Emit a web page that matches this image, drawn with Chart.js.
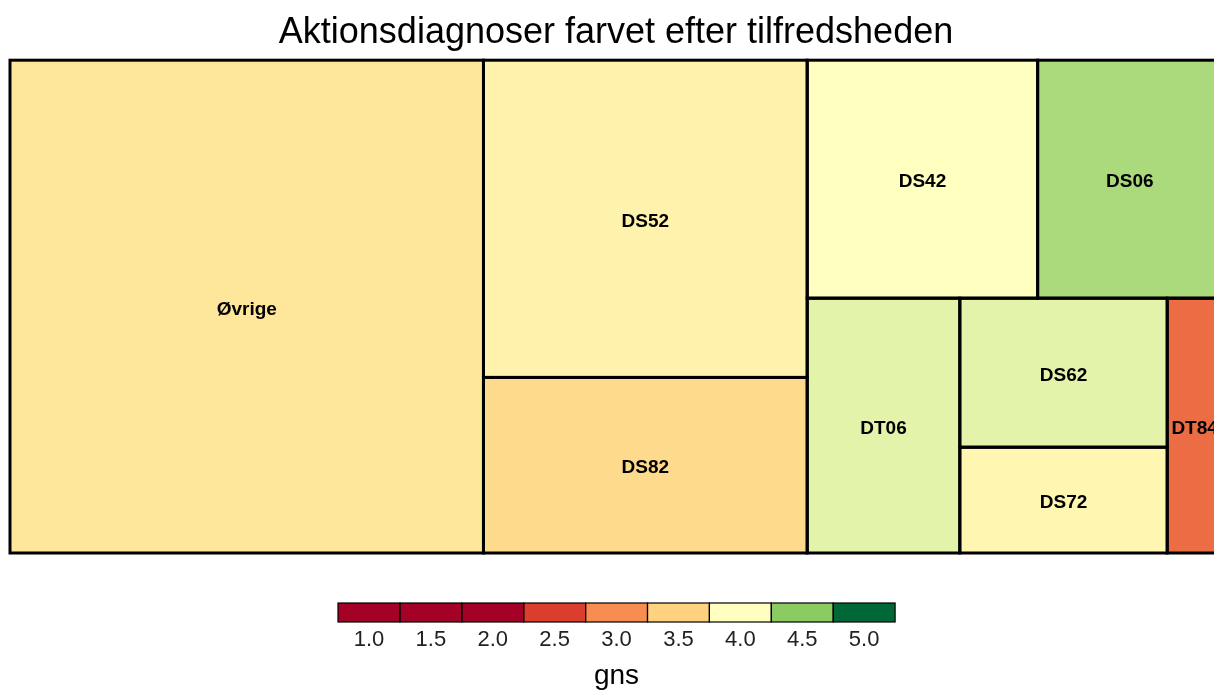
<!DOCTYPE html>
<html>
<head>
<meta charset="utf-8">
<script src="https://cdn.jsdelivr.net/npm/chart.js@4"></script>
<style>
  html, body { margin: 0; padding: 0; background: #fff; overflow: hidden; }
  #wrap { width: 1232px; height: 691px; }
</style>
</head>
<body>
<div id="wrap"><canvas id="treeChart" width="1232" height="691"></canvas></div>
<script>
const ctx = document.getElementById("treeChart").getContext("2d");

// diagnoses, size (antal) and mean satisfaction (gns)
const diagnoser = ["Øvrige", "DS52", "DS82", "DS42", "DS06", "DT06", "DS62", "DS72", "DT84"];
const antal = [234, 103, 57, 55, 44, 39, 31, 22, 14];
const gns = [3.72, 3.85, 3.6, 4.0, 4.36, 4.12, 4.12, 3.9, 2.8];

// colour scale (legend)
const legendBreaks = [1.0, 1.5, 2.0, 2.5, 3.0, 3.5, 4.0, 4.5, 5.0];
const legendColors = ["#A50026", "#A50026", "#A50026", "#DB3E2C", "#F88D52", "#FED27F", "#FFFFBF", "#8BCC62", "#006837"];

const W = 1212, H = 493;

function hexToRgb(h) {
  return [parseInt(h.slice(1, 3), 16), parseInt(h.slice(3, 5), 16), parseInt(h.slice(5, 7), 16)];
}
function colorFor(v) {
  let i = 0;
  while (i < legendBreaks.length - 2 && v > legendBreaks[i + 1]) i++;
  const t = Math.max(0, Math.min(1, (v - legendBreaks[i]) / (legendBreaks[i + 1] - legendBreaks[i])));
  const a = hexToRgb(legendColors[i]), b = hexToRgb(legendColors[i + 1]);
  const c = a.map((x, k) => Math.round(x + (b[k] - x) * t));
  return "rgb(" + c.join(",") + ")";
}

// squarified treemap layout in data units
function squarify(values, x, y, w, h) {
  const total = values.reduce((s, v) => s + v, 0);
  const areas = values.map(v => v / total * w * h);
  const out = [];
  let idx = 0;
  while (idx < areas.length) {
    const side = Math.min(w, h);
    let row = [areas[idx]];
    let best = worst(row, side);
    let j = idx + 1;
    while (j < areas.length) {
      const test = row.concat(areas[j]);
      const wr = worst(test, side);
      if (wr > best) break;
      row = test; best = wr; j++;
    }
    const sum = row.reduce((s, v) => s + v, 0);
    if (w >= h) {
      // column on the left
      const cw = sum / h;
      let yy = y;
      row.forEach(a => { const ch = a / cw; out.push({ x: x, y: yy, w: cw, h: ch }); yy += ch; });
      x += cw; w -= cw;
    } else {
      // row on top
      const rh = sum / w;
      let xx = x;
      row.forEach(a => { const rw = a / rh; out.push({ x: xx, y: y, w: rw, h: rh }); xx += rw; });
      y += rh; h -= rh;
    }
    idx = j;
  }
  return out;
}
function worst(row, side) {
  const s = row.reduce((a, b) => a + b, 0);
  const mx = Math.max(...row), mn = Math.min(...row);
  return Math.max(side * side * mx / (s * s), (s * s) / (side * side * mn));
}

const cells = squarify(antal, 0, 0, W, H);

const treemapPlugin = {
  id: "treemap",
  afterDatasetsDraw(chart) {
    const c = chart.ctx, xs = chart.scales.x, ys = chart.scales.y;
    c.save();
    cells.forEach((r, i) => {
      const x0 = xs.getPixelForValue(r.x), x1 = xs.getPixelForValue(r.x + r.w);
      const y0 = ys.getPixelForValue(r.y), y1 = ys.getPixelForValue(r.y + r.h);
      c.fillStyle = colorFor(gns[i]);
      c.fillRect(x0, y0, x1 - x0, y1 - y0);
    });
    c.lineWidth = 3;
    c.strokeStyle = "#000";
    cells.forEach(r => {
      const x0 = xs.getPixelForValue(r.x), x1 = xs.getPixelForValue(r.x + r.w);
      const y0 = ys.getPixelForValue(r.y), y1 = ys.getPixelForValue(r.y + r.h);
      c.strokeRect(x0, y0, x1 - x0, y1 - y0);
    });
    c.font = "bold 19px 'Liberation Sans', Arial, sans-serif";
    c.fillStyle = "#000";
    c.textAlign = "center";
    c.textBaseline = "middle";
    cells.forEach((r, i) => {
      const cx = xs.getPixelForValue(r.x + r.w / 2), cy = ys.getPixelForValue(r.y + r.h / 2);
      c.fillText(diagnoser[i], cx, cy + 3);
    });

    // colour legend
    const lx = 338, ly = 603, bw = 61.9, bh = 19;
    legendColors.forEach((col, i) => {
      c.fillStyle = col;
      c.fillRect(lx + i * bw, ly, bw, bh);
    });
    c.lineWidth = 1.2;
    c.strokeStyle = "#000";
    legendColors.forEach((col, i) => c.strokeRect(lx + i * bw, ly, bw, bh));
    c.font = "22px 'Liberation Sans', Arial, sans-serif";
    c.fillStyle = "#222";
    legendBreaks.forEach((b, i) => c.fillText(b.toFixed(1), lx + i * bw + bw / 2, 640));
    c.font = "28px 'Liberation Sans', Arial, sans-serif";
    c.fillStyle = "#000";
    c.fillText("gns", lx + 4.5 * bw, 676);
    c.restore();
  }
};

new Chart(ctx, {
  type: "scatter",
  data: { datasets: [{ data: [] }] },
  options: {
    responsive: false,
    animation: false,
    layout: { padding: { left: 10, right: 10, top: 0, bottom: 138 } },
    scales: {
      x: { type: "linear", min: 0, max: W, display: false },
      y: { type: "linear", min: 0, max: H, reverse: true, display: false }
    },
    plugins: {
      legend: { display: false },
      tooltip: { enabled: false },
      title: {
        display: true,
        text: "Aktionsdiagnoser farvet efter tilfredsheden",
        color: "#000",
        font: { family: "'Liberation Sans', Arial, sans-serif", size: 36, weight: "normal" },
        padding: { top: 11, bottom: 6 }
      }
    }
  },
  plugins: [treemapPlugin]
});
</script>
</body>
</html>
